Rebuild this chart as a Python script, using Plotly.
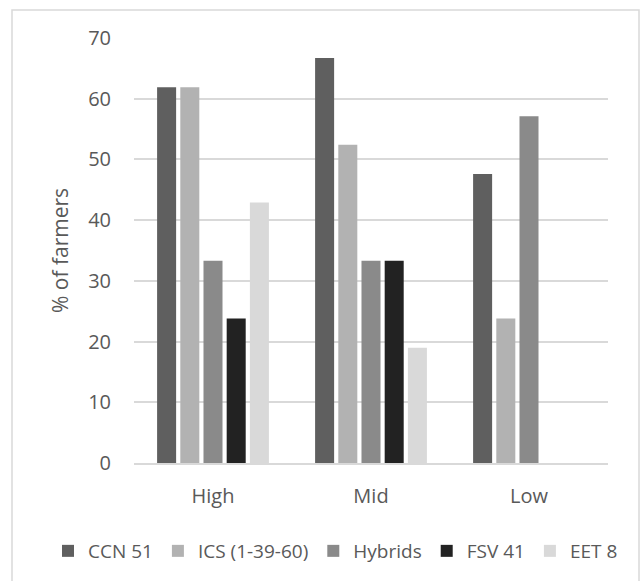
import plotly.graph_objects as go

# Share of farmers (%) naming each cacao variety, by altitude zone
zones = ["High", "Mid", "Low"]
ccn51 = [61.9, 66.7, 47.6]
ics = [61.9, 52.4, 23.8]
hybrids = [33.3, 33.3, 57.1]
fsv41 = [23.8, 33.3, 0]
eet8 = [42.9, 19.0, 0]

series = [
    ("CCN 51", ccn51, "#5f5f5f"),
    ("ICS (1-39-60)", ics, "#b2b2b2"),
    ("Hybrids", hybrids, "#8a8a8a"),
    ("FSV 41", fsv41, "#222222"),
    ("EET 8", eet8, "#d9d9d9"),
]

FONT = "Open Sans, Noto Sans, sans-serif"
TEXT = "#595959"
GRID = "#d9d9d9"

fig = go.Figure()
for name, vals, color in series:
    fig.add_trace(go.Bar(
        x=zones, y=vals, name=name,
        marker=dict(color=color, line=dict(width=0)),
    ))

# plot area in pixels: x 134..608, y 38..463
L, R, T, B = 134, 36, 38, 118
W, H = 644, 581
pw, ph = W - L - R, H - T - B


def px_x(p):
    return (p - L) / pw


def px_y(p):
    return (H - B - p) / ph


fig.update_layout(
    width=W, height=H,
    margin=dict(l=L, r=R, t=T, b=B, autoexpand=False),
    paper_bgcolor="white", plot_bgcolor="white",
    font=dict(family=FONT, size=20, color=TEXT),
    barmode="group", bargap=0.266, bargroupgap=0.18,
    showlegend=True,
    legend=dict(
        orientation="h", x=px_x(48), xanchor="left",
        y=px_y(551), yanchor="middle",
        font=dict(size=19, color=TEXT),
        itemwidth=30, tracegroupgap=0,
        bgcolor="rgba(0,0,0,0)",
    ),
    xaxis=dict(
        showgrid=False, showline=True, linecolor=GRID, linewidth=2,
        ticks="", ticklabelstandoff=14,
        tickfont=dict(size=20, color=TEXT),
        fixedrange=True,
    ),
    yaxis=dict(
        range=[0, 70], dtick=10, tick0=0,
        showgrid=True, gridcolor=GRID, gridwidth=2,
        zeroline=False, showline=False, ticks="",
        ticklabelstandoff=22,
        tickfont=dict(size=20, color=TEXT),
        title=dict(text="% of farmers", font=dict(size=21, color=TEXT), standoff=13),
        automargin=False,
        fixedrange=True,
    ),
    shapes=[dict(
        type="rect", xref="paper", yref="paper",
        x0=px_x(12), x1=px_x(639), y0=px_y(590), y1=px_y(10),
        line=dict(color=GRID, width=1.5), fillcolor="rgba(0,0,0,0)",
        layer="below",
    )],
)

fig.write_html("out.html")
